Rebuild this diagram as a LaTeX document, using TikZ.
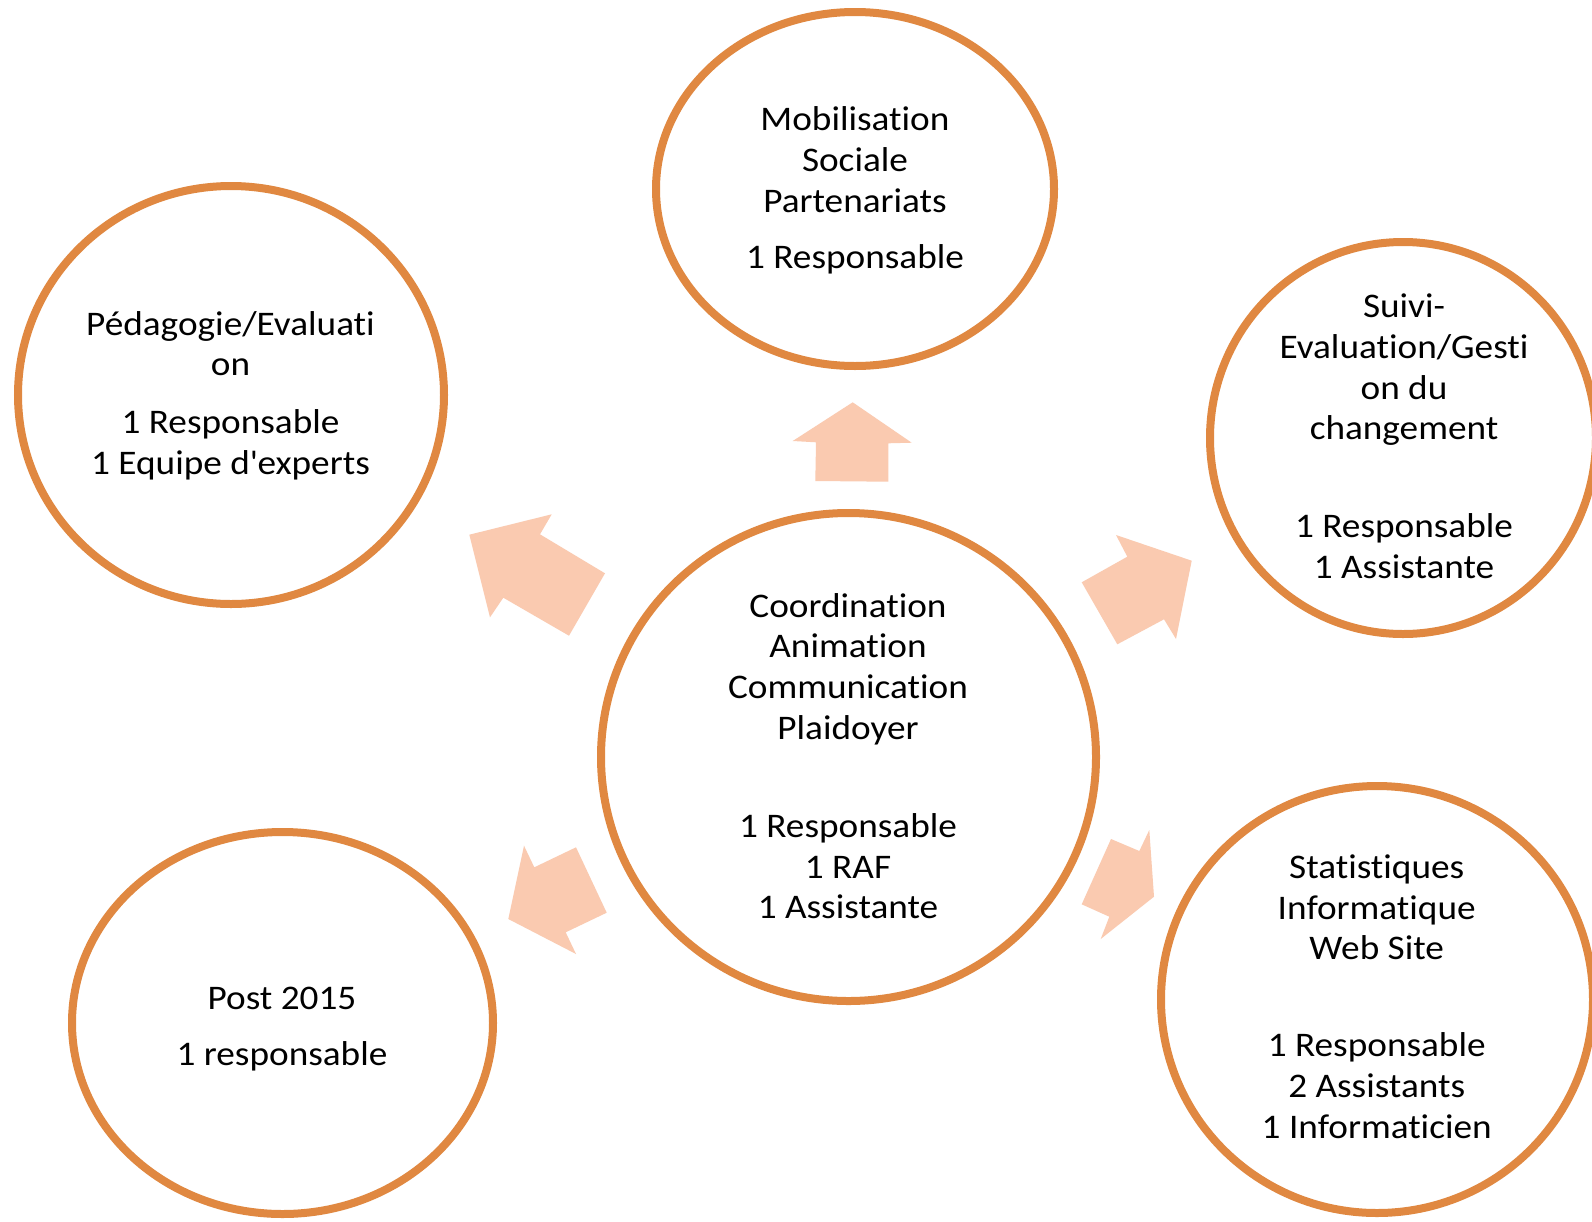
\documentclass[tikz,border=0pt]{standalone}
\usepackage{fontspec}
\setmainfont{Carlito}[Ligatures={NoCommon}, FakeStretch=1.08]
\usetikzlibrary{shapes.geometric}
\definecolor{ringc}{RGB}{224,136,65}
\definecolor{peach}{RGB}{250,202,176}
\newcommand\lineat[4]{\node[txt] (#1) at (#2,#3) {#4};}
\begin{document}
\begin{tikzpicture}[x=1pt,y=-1pt,
  ring/.style={ellipse, draw=ringc, line width=8pt, inner sep=0pt, outer sep=0pt},
  txt/.style={anchor=base, inner sep=0pt, font=\fontsize{34.5}{40.7}\selectfont},
  blockarrow/.style={fill=peach, draw=none}]
\useasboundingbox (0,0) rectangle (1592,1221);
\clip (0,0) rectangle (1592,1221);
\fill[white] (0,0) rectangle (1592,1221);

% block arrows
\fill[blockarrow] (852.7,402.3) -- (911.7,442.7) -- (888.3,443.3) -- (888.3,481.7) -- (815.3,481) -- (816,442.3) -- (792.7,441) -- cycle;
\fill[blockarrow] (469.3,534.7) -- (551.7,514.3) -- (540,534.3) -- (605,573.3) -- (569,635.7) -- (503.3,597.7) -- (490,617.3) -- cycle;
\fill[blockarrow] (1191.7,560.7) -- (1176,639) -- (1164,619.3) -- (1117.3,644.3) -- (1081.7,582.3) -- (1127.3,556.7) -- (1116,535) -- cycle;
\fill[blockarrow] (508.3,919) -- (524,845.7) -- (534.3,867.3) -- (576,847.3) -- (606.7,912.7) -- (565.7,932.3) -- (576,954) -- cycle;
\fill[blockarrow] (1154,896.7) -- (1100.7,939) -- (1109.3,916.7) -- (1081.7,904.3) -- (1111,839) -- (1139.3,851) -- (1149.3,830) -- cycle;

% rings
\node[ring, minimum width=495pt, minimum height=488pt] (coord) at (848.5,757) {};
\node[ring, minimum width=398pt, minimum height=354pt] (mob) at (855,189) {};
\node[ring, minimum width=426pt, minimum height=418pt] (ped) at (231,395) {};
\node[ring, minimum width=386pt, minimum height=392pt] (suivi) at (1403,438) {};
\node[ring, minimum width=432pt, minimum height=427pt] (stat) at (1377,999.5) {};
\node[ring, minimum width=421pt, minimum height=382pt] (post) at (282.5,1023) {};

% texts
\lineat{c1}{848}{617}{Coordination}
\lineat{c2}{848}{657.7}{Animation}
\lineat{c3}{848}{698.4}{Communication}
\lineat{c4}{848}{739.1}{Plaidoyer}
\lineat{c5}{848}{837.3}{1 Responsable}
\lineat{c6}{848}{878}{1 RAF}
\lineat{c7}{848}{918.7}{1 Assistante}

\lineat{m1}{855}{130.7}{Mobilisation}
\lineat{m2}{855}{171.4}{Sociale}
\lineat{m3}{855}{212.1}{Partenariats}
\lineat{m4}{855}{268.3}{1 Responsable}

\lineat{p1}{230.5}{335}{Pédagogie/Evaluati}
\lineat{p2}{230.5}{375.7}{on}
\lineat{p3}{230.5}{433.3}{1 Responsable}
\lineat{p4}{230.5}{474}{1 Equipe d\textquotesingle experts}

\lineat{s1}{1404}{317.7}{Suivi-}
\lineat{s2}{1404}{358.4}{Evaluation/Gesti}
\lineat{s3}{1404}{399.1}{on du}
\lineat{s4}{1404}{439.8}{changement}
\lineat{s5}{1404}{537.3}{1 Responsable}
\lineat{s6}{1404}{578}{1 Assistante}

\lineat{t1}{1376.7}{878.3}{Statistiques}
\lineat{t2}{1376.7}{919}{Informatique}
\lineat{t3}{1376.7}{959.7}{Web Site}
\lineat{t4}{1376.7}{1056.7}{1 Responsable}
\lineat{t5}{1376.7}{1097.4}{2 Assistants}
\lineat{t6}{1376.7}{1138.1}{1 Informaticien}

\lineat{q1}{282}{1009.3}{Post 2015}
\lineat{q2}{282}{1065}{1 responsable}
\end{tikzpicture}
\end{document}
